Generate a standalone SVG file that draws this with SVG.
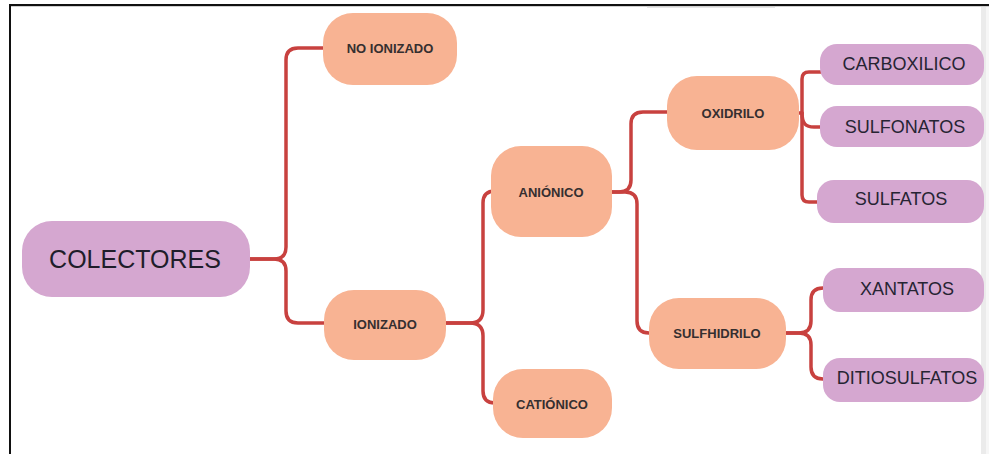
<svg xmlns="http://www.w3.org/2000/svg" width="989" height="454" viewBox="0 0 989 454">
  <style>
    .peach { fill: #f8b393; }
    .lilac { fill: #d5a7d0; }
    .conn path { fill: none; stroke: #c8413f; stroke-width: 3.5; stroke-linecap: round; stroke-linejoin: round; }
    .t-small { font-family: "Liberation Sans", Arial, sans-serif; font-size: 13px; font-weight: bold; fill: #352f30; text-anchor: middle; dominant-baseline: central; }
    .t-mid { font-family: "Liberation Sans", Arial, sans-serif; font-size: 18px; fill: #262433; text-anchor: middle; dominant-baseline: central; }
    .t-big { font-family: "Liberation Sans", Arial, sans-serif; font-size: 25px; fill: #1f1d2a; text-anchor: middle; dominant-baseline: central; }
  </style>

  <!-- page background and frame -->
  <rect x="0" y="0" width="989" height="454" fill="#ffffff"/>
  <rect x="981" y="5" width="5" height="449" fill="#ebebeb"/>
  <rect x="986" y="5" width="3" height="449" fill="#f6f6f6"/>
  <rect x="647" y="6" width="128" height="2" fill="#e6e6e6"/>
  <line x1="9" y1="6.5" x2="989" y2="6.5" stroke="#d0d0d0" stroke-width="1"/>
  <line x1="9" y1="5" x2="989" y2="5" stroke="#111111" stroke-width="2"/>
  <line x1="10" y1="4" x2="10" y2="454" stroke="#111111" stroke-width="2"/>

  <!-- connectors -->
  <g id="connectors" class="conn">
    <path d="M250,259 H274 Q286,259 286,247 V60 Q286,48 298,48 H323"/>
    <path d="M250,259 H274 Q286,259 286,271 V311 Q286,323 298,323 H324"/>
    <path d="M446,323 H470 Q483,323 483,310 V203 Q483,191 495,191"/>
    <path d="M446,323 H470 Q483,323 483,336 V391 Q483,403 495,403"/>
    <path d="M612,192 H619 Q631,192 631,180 V124 Q631,112 643,112 H667"/>
    <path d="M612,192 H625 Q637,192 637,204 V321 Q637,333 649,333 H652"/>
    <path d="M799,113 H802 V79 Q802,72 809,72 H822"/>
    <path d="M802,113 V195 Q802,202 809,202 H819"/>
    <path d="M802,113 C802,124 806,127 814,127 H822"/>
    <path d="M786,333 H799 Q811,333 811,321 V300 Q811,288 823,288 H825"/>
    <path d="M786,333 H799 Q811,333 811,345 V367 Q811,379 823,379 H825"/>
  </g>

  <!-- root -->
  <g id="colectores">
    <rect class="lilac" x="22" y="221" width="228" height="76" rx="30"/>
    <text class="t-big" x="135" y="259">COLECTORES</text>
  </g>

  <!-- first level -->
  <g id="no-ionizado">
    <rect class="peach" x="323" y="13" width="134" height="72" rx="30"/>
    <text class="t-small" x="390" y="48">NO IONIZADO</text>
  </g>
  <g id="ionizado">
    <rect class="peach" x="324" y="290" width="122" height="70" rx="30"/>
    <text class="t-small" x="385" y="324">IONIZADO</text>
  </g>

  <!-- second level -->
  <g id="anionico">
    <rect class="peach" x="491" y="146" width="121" height="91" rx="30"/>
    <text class="t-small" x="551" y="192">ANIÓNICO</text>
  </g>
  <g id="cationico">
    <rect class="peach" x="493" y="369" width="119" height="69" rx="30"/>
    <text class="t-small" x="552" y="404">CATIÓNICO</text>
  </g>

  <!-- third level -->
  <g id="oxidrilo">
    <rect class="peach" x="667" y="76" width="132" height="74" rx="30"/>
    <text class="t-small" x="733" y="113">OXIDRILO</text>
  </g>
  <g id="sulfhidrilo">
    <rect class="peach" x="649" y="298" width="137" height="71" rx="30"/>
    <text class="t-small" x="717" y="333">SULFHIDRILO</text>
  </g>

  <!-- leaves -->
  <g id="carboxilico">
    <rect class="lilac" x="820" y="44" width="164" height="41" rx="17"/>
    <text class="t-mid" x="904" y="64">CARBOXILICO</text>
  </g>
  <g id="sulfonatos">
    <rect class="lilac" x="820" y="106" width="164" height="41" rx="17"/>
    <text class="t-mid" x="905" y="127">SULFONATOS</text>
  </g>
  <g id="sulfatos">
    <rect class="lilac" x="817" y="180" width="167" height="43" rx="17"/>
    <text class="t-mid" x="901" y="199">SULFATOS</text>
  </g>
  <g id="xantatos">
    <rect class="lilac" x="823" y="268" width="161" height="44" rx="17"/>
    <text class="t-mid" x="907" y="289">XANTATOS</text>
  </g>
  <g id="ditiosulfatos">
    <rect class="lilac" x="823" y="358" width="161" height="44" rx="17"/>
    <text class="t-mid" x="907" y="378">DITIOSULFATOS</text>
  </g>
</svg>
